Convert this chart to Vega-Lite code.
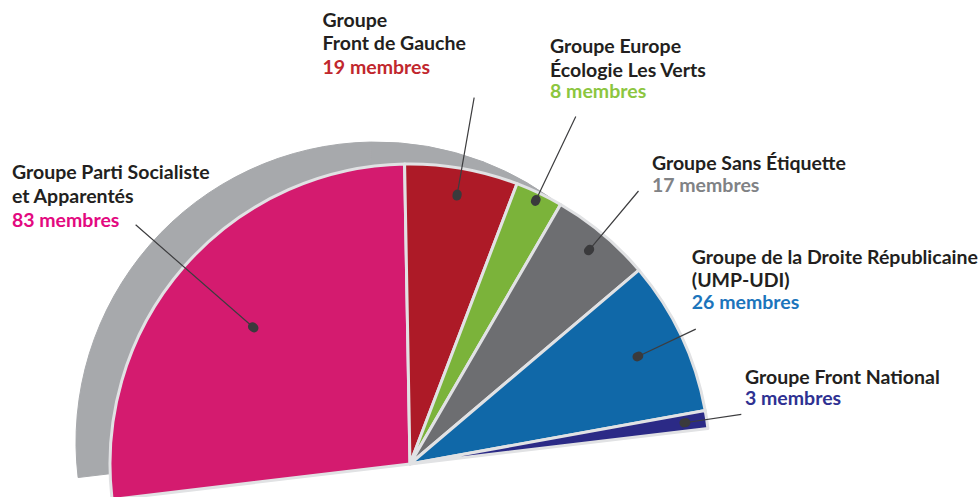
{
  "$schema": "https://vega.github.io/schema/vega-lite/v6.json",
  "autosize": "none",
  "width": 820,
  "height": 928,
  "padding": {"left": 0, "top": 0, "right": 158, "bottom": -431},
  "background": "white",
  "config": {"view": {"stroke": null}},
  "data": {
    "values": [
      {"party": "PS", "seats": 83, "title": "Groupe Parti Socialiste\net Apparentés", "members": "83 membres"},
      {"party": "FdG", "seats": 19, "title": "Groupe\nFront de Gauche", "members": "19 membres"},
      {"party": "EELV", "seats": 8, "title": "Groupe Europe\nÉcologie Les Verts", "members": "8 membres"},
      {"party": "SE", "seats": 17, "title": "Groupe Sans Étiquette", "members": "17 membres"},
      {"party": "UMP-UDI", "seats": 26, "title": "Groupe de la Droite Républicaine\n(UMP-UDI)", "members": "26 membres"},
      {"party": "FN", "seats": 3, "title": "Groupe Front National", "members": "3 membres"}
    ]
  },
  "transform": [
    {"stack": "seats", "groupby": [], "as": ["s0", "s1"]},
    {"fold": ["s0", "s1"], "as": ["k", "v"]},
    {"joinaggregate": [{"op": "mean", "field": "v", "as": "mid"}], "groupby": ["party"]},
    {"filter": "datum.k === 's0'"}
  ],
  "layer": [
    {
      "mark": {"type": "arc", "outerRadius": 300, "innerRadius": 0, "xOffset": -34, "yOffset": -22, "fill": "#a7a9ac", "stroke": "#a7a9ac", "strokeWidth": 1},
      "encoding": {
        "theta": {"field": "s0", "type": "quantitative", "stack": null, "scale": {"domain": [0, 156], "range": [-1.6895, 1.4521]}},
        "theta2": {"field": "s1"}
      }
    },
    {
      "mark": {"type": "arc", "outerRadius": 300, "innerRadius": 0, "stroke": "#e1e2e4", "strokeWidth": 3, "strokeJoin": "round"},
      "encoding": {
        "theta": {"field": "s0", "type": "quantitative", "stack": null, "scale": {"domain": [0, 156], "range": [-1.6895, 1.4521]}},
        "theta2": {"field": "s1"},
        "color": {"field": "party", "type": "nominal", "legend": null,
          "scale": {"domain": ["PS", "FdG", "EELV", "SE", "UMP-UDI", "FN"], "range": ["#d41b6f", "#ad1a27", "#7bb33a", "#6d6e71", "#1068a8", "#2b2a86"]}}
      }
    },
    {
      "transform": [{"filter": "datum.party === 'PS'"}],
      "layer": [
        {"mark": {"type": "arc", "innerRadius": 208, "outerRadius": 364, "fill": "none", "stroke": "#3d3d3f", "strokeWidth": 1.2},
         "encoding": {"theta": {"field": "mid", "type": "quantitative", "stack": null, "scale": {"domain": [0, 156], "range": [-1.6895, 1.4521]}}, "theta2": {"field": "mid"}}},
        {"mark": {"type": "arc", "innerRadius": 207, "outerRadius": 209, "fill": "none", "stroke": "#3a3a3c", "strokeWidth": 9, "strokeCap": "round", "strokeJoin": "round"},
         "encoding": {"theta": {"field": "mid", "type": "quantitative", "stack": null, "scale": {"domain": [0, 156], "range": [-1.6895, 1.4521]}}, "theta2": {"field": "mid"}}},
        {"mark": {"type": "text", "radius": 364, "dx": -123.7, "dy": -45.7, "align": "left", "baseline": "alphabetic", "lineBreak": "\n", "lineHeight": 24, "font": "Lato", "fontWeight": "bold", "fontSize": 19.5, "color": "#231f20"},
         "encoding": {"theta": {"field": "mid", "type": "quantitative", "scale": {"domain": [0, 156], "range": [-1.6895, 1.4521]}}, "text": {"field": "title"}}},
        {"mark": {"type": "text", "radius": 364, "dx": -123.7, "dy": 2.3, "align": "left", "baseline": "alphabetic", "font": "Lato", "fontWeight": "bold", "fontSize": 19.5, "color": "#e3097f"},
         "encoding": {"theta": {"field": "mid", "type": "quantitative", "scale": {"domain": [0, 156], "range": [-1.6895, 1.4521]}}, "text": {"field": "members"}}}
      ]
    },
    {
      "transform": [{"filter": "datum.party === 'FdG'"}],
      "layer": [
        {"mark": {"type": "arc", "innerRadius": 273, "outerRadius": 372, "fill": "none", "stroke": "#3d3d3f", "strokeWidth": 1.2},
         "encoding": {"theta": {"field": "mid", "type": "quantitative", "stack": null, "scale": {"domain": [0, 156], "range": [-1.6895, 1.4521]}}, "theta2": {"field": "mid"}}},
        {"mark": {"type": "arc", "innerRadius": 272, "outerRadius": 274, "fill": "none", "stroke": "#3a3a3c", "strokeWidth": 9, "strokeCap": "round", "strokeJoin": "round"},
         "encoding": {"theta": {"field": "mid", "type": "quantitative", "stack": null, "scale": {"domain": [0, 156], "range": [-1.6895, 1.4521]}}, "theta2": {"field": "mid"}}},
        {"mark": {"type": "text", "radius": 383.5, "dx": -153.6, "dy": -59.6, "align": "left", "baseline": "alphabetic", "lineBreak": "\n", "lineHeight": 23.5, "font": "Lato", "fontWeight": "bold", "fontSize": 19.5, "color": "#231f20"},
         "encoding": {"theta": {"field": "mid", "type": "quantitative", "scale": {"domain": [0, 156], "range": [-1.6895, 1.4521]}}, "text": {"field": "title"}}},
        {"mark": {"type": "text", "radius": 383.5, "dx": -153.6, "dy": -12.3, "align": "left", "baseline": "alphabetic", "font": "Lato", "fontWeight": "bold", "fontSize": 19.5, "color": "#c1272d"},
         "encoding": {"theta": {"field": "mid", "type": "quantitative", "scale": {"domain": [0, 156], "range": [-1.6895, 1.4521]}}, "text": {"field": "members"}}}
      ]
    },
    {
      "transform": [{"filter": "datum.party === 'EELV'"}],
      "layer": [
        {"mark": {"type": "arc", "innerRadius": 292, "outerRadius": 385, "fill": "none", "stroke": "#3d3d3f", "strokeWidth": 1.2},
         "encoding": {"theta": {"field": "mid", "type": "quantitative", "stack": null, "scale": {"domain": [0, 156], "range": [-1.6895, 1.4521]}}, "theta2": {"field": "mid"}}},
        {"mark": {"type": "arc", "innerRadius": 291, "outerRadius": 293, "fill": "none", "stroke": "#3a3a3c", "strokeWidth": 9, "strokeCap": "round", "strokeJoin": "round"},
         "encoding": {"theta": {"field": "mid", "type": "quantitative", "stack": null, "scale": {"domain": [0, 156], "range": [-1.6895, 1.4521]}}, "theta2": {"field": "mid"}}},
        {"mark": {"type": "text", "radius": 387, "dx": -26.6, "dy": -62, "align": "left", "baseline": "alphabetic", "lineBreak": "\n", "lineHeight": 24, "font": "Lato", "fontWeight": "bold", "fontSize": 19.5, "color": "#231f20"},
         "encoding": {"theta": {"field": "mid", "type": "quantitative", "scale": {"domain": [0, 156], "range": [-1.6895, 1.4521]}}, "text": {"field": "title"}}},
        {"mark": {"type": "text", "radius": 387, "dx": -26.6, "dy": -16.4, "align": "left", "baseline": "alphabetic", "font": "Lato", "fontWeight": "bold", "fontSize": 19.5, "color": "#8cc63f"},
         "encoding": {"theta": {"field": "mid", "type": "quantitative", "scale": {"domain": [0, 156], "range": [-1.6895, 1.4521]}}, "text": {"field": "members"}}}
      ]
    },
    {
      "transform": [{"filter": "datum.party === 'SE'"}],
      "layer": [
        {"mark": {"type": "arc", "innerRadius": 279, "outerRadius": 356, "fill": "none", "stroke": "#3d3d3f", "strokeWidth": 1.2},
         "encoding": {"theta": {"field": "mid", "type": "quantitative", "stack": null, "scale": {"domain": [0, 156], "range": [-1.6895, 1.4521]}}, "theta2": {"field": "mid"}}},
        {"mark": {"type": "arc", "innerRadius": 278, "outerRadius": 280, "fill": "none", "stroke": "#3a3a3c", "strokeWidth": 9, "strokeCap": "round", "strokeJoin": "round"},
         "encoding": {"theta": {"field": "mid", "type": "quantitative", "stack": null, "scale": {"domain": [0, 156], "range": [-1.6895, 1.4521]}}, "theta2": {"field": "mid"}}},
        {"mark": {"type": "text", "radius": 356, "dx": 13.4, "dy": -20.9, "align": "left", "baseline": "alphabetic", "lineBreak": "\n", "lineHeight": 24, "font": "Lato", "fontWeight": "bold", "fontSize": 19.5, "color": "#231f20"},
         "encoding": {"theta": {"field": "mid", "type": "quantitative", "scale": {"domain": [0, 156], "range": [-1.6895, 1.4521]}}, "text": {"field": "title"}}},
        {"mark": {"type": "text", "radius": 356, "dx": 13.4, "dy": 0.8, "align": "left", "baseline": "alphabetic", "font": "Lato", "fontWeight": "bold", "fontSize": 19.5, "color": "#808285"},
         "encoding": {"theta": {"field": "mid", "type": "quantitative", "scale": {"domain": [0, 156], "range": [-1.6895, 1.4521]}}, "text": {"field": "members"}}}
      ]
    },
    {
      "transform": [{"filter": "datum.party === 'UMP-UDI'"}],
      "layer": [
        {"mark": {"type": "arc", "innerRadius": 252, "outerRadius": 316, "fill": "none", "stroke": "#3d3d3f", "strokeWidth": 1.2},
         "encoding": {"theta": {"field": "mid", "type": "quantitative", "stack": null, "scale": {"domain": [0, 156], "range": [-1.6895, 1.4521]}}, "theta2": {"field": "mid"}}},
        {"mark": {"type": "arc", "innerRadius": 251, "outerRadius": 253, "fill": "none", "stroke": "#3a3a3c", "strokeWidth": 9, "strokeCap": "round", "strokeJoin": "round"},
         "encoding": {"theta": {"field": "mid", "type": "quantitative", "stack": null, "scale": {"domain": [0, 156], "range": [-1.6895, 1.4521]}}, "theta2": {"field": "mid"}}},
        {"mark": {"type": "text", "radius": 316, "dx": -4, "dy": -65.6, "align": "left", "baseline": "alphabetic", "lineBreak": "\n", "lineHeight": 23.5, "font": "Lato", "fontWeight": "bold", "fontSize": 19.5, "color": "#231f20"},
         "encoding": {"theta": {"field": "mid", "type": "quantitative", "scale": {"domain": [0, 156], "range": [-1.6895, 1.4521]}}, "text": {"field": "title"}}},
        {"mark": {"type": "text", "radius": 316, "dx": -4, "dy": -20.6, "align": "left", "baseline": "alphabetic", "font": "Lato", "fontWeight": "bold", "fontSize": 19.5, "color": "#1c75bc"},
         "encoding": {"theta": {"field": "mid", "type": "quantitative", "scale": {"domain": [0, 156], "range": [-1.6895, 1.4521]}}, "text": {"field": "members"}}}
      ]
    },
    {
      "transform": [{"filter": "datum.party === 'FN'"}],
      "layer": [
        {"mark": {"type": "arc", "innerRadius": 278, "outerRadius": 335, "fill": "none", "stroke": "#3d3d3f", "strokeWidth": 1.2},
         "encoding": {"theta": {"field": "mid", "type": "quantitative", "stack": null, "scale": {"domain": [0, 156], "range": [-1.6895, 1.4521]}}, "theta2": {"field": "mid"}}},
        {"mark": {"type": "arc", "innerRadius": 277, "outerRadius": 279, "fill": "none", "stroke": "#3a3a3c", "strokeWidth": 9, "strokeCap": "round", "strokeJoin": "round"},
         "encoding": {"theta": {"field": "mid", "type": "quantitative", "stack": null, "scale": {"domain": [0, 156], "range": [-1.6895, 1.4521]}}, "theta2": {"field": "mid"}}},
        {"mark": {"type": "text", "radius": 335, "dx": 3.7, "dy": -30.5, "align": "left", "baseline": "alphabetic", "lineBreak": "\n", "lineHeight": 24, "font": "Lato", "fontWeight": "bold", "fontSize": 19.5, "color": "#231f20"},
         "encoding": {"theta": {"field": "mid", "type": "quantitative", "scale": {"domain": [0, 156], "range": [-1.6895, 1.4521]}}, "text": {"field": "title"}}},
        {"mark": {"type": "text", "radius": 335, "dx": 3.7, "dy": -9.7, "align": "left", "baseline": "alphabetic", "font": "Lato", "fontWeight": "bold", "fontSize": 19.5, "color": "#2e3192"},
         "encoding": {"theta": {"field": "mid", "type": "quantitative", "scale": {"domain": [0, 156], "range": [-1.6895, 1.4521]}}, "text": {"field": "members"}}}
      ]
    }
  ]
}
